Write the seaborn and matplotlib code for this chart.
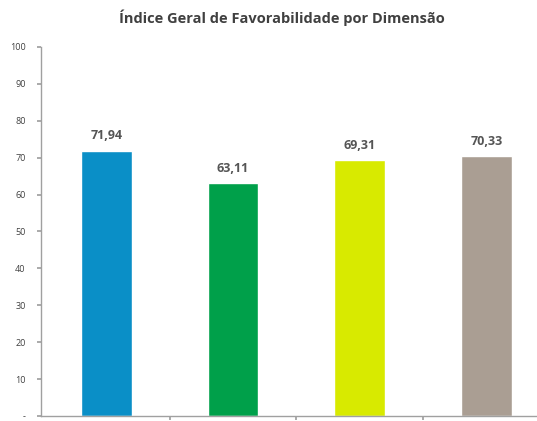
import matplotlib
matplotlib.use("Agg")
import matplotlib.pyplot as plt
import seaborn as sns
import pandas as pd

categories = ["Dimensão 1", "Dimensão 2", "Dimensão 3", "Dimensão 4"]
values = [71.94, 63.11, 69.31, 70.33]
labels = ["71,94", "63,11", "69,31", "70,33"]
colors = ["#0A8FC7", "#00A04A", "#D8EA00", "#AA9E93"]
yticks = [0, 10, 20, 30, 40, 50, 60, 70, 80, 90, 100]
yticklabels = ["-", "10", "20", "30", "40", "50", "60", "70", "80", "90", "100"]

sns.set_theme(style="white")
plt.rcParams["font.family"] = ["Open Sans", "DejaVu Sans"]

df = pd.DataFrame({"cat": categories, "val": values})

fig = plt.figure(figsize=(5.37, 4.21), dpi=100)
ax = fig.add_axes([41/537, 5/421, 496/537, 369/421])
sns.barplot(data=df, x="cat", y="val", hue="cat", palette=colors, width=0.4,
            legend=False, ax=ax, saturation=1)

ax.set_ylim(0, 100)
ax.set_xlim(-0.516, 3.40)
ax.set_yticks(yticks)
ax.set_yticklabels(yticklabels, fontsize=6.5, color="#404040")
ax.set_xticks([0.5, 1.5, 2.5])
ax.set_xticklabels([])
ax.tick_params(axis="x", length=3, color="#A0A0A0", direction="out", bottom=True)
ax.tick_params(axis="y", length=3, color="#A0A0A0", direction="out", left=True, pad=8)
ax.set_xlabel("")
ax.set_ylabel("")
for s in ["top", "right"]:
    ax.spines[s].set_visible(False)
for s in ["left", "bottom"]:
    ax.spines[s].set_color("#A0A0A0")
    ax.spines[s].set_linewidth(1.0)

for i, (v, lab) in enumerate(zip(values, labels)):
    ax.annotate(lab, (i, v), xytext=(0, 6), textcoords="offset points",
                ha="center", va="bottom", fontsize=9, fontweight="bold", color="#555555")

fig.text(282/537, 1 - 18/421, "Índice Geral de Favorabilidade por Dimensão",
         ha="center", va="center", fontsize=10.5, fontweight="bold", color="#404040")

fig.savefig("out.png", dpi=100)
